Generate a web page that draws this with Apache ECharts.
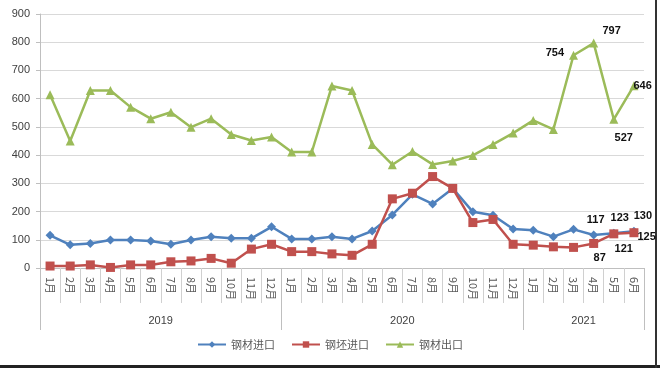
<!DOCTYPE html>
<html><head><meta charset="utf-8">
<script src="https://cdn.jsdelivr.net/npm/echarts@6/dist/echarts.min.js"></script>
<style>html,body{margin:0;padding:0;background:#fff}#c{width:660px;height:368px}</style>
</head><body><div id="c"></div>
<script>
var months = ['1月','2月','3月','4月','5月','6月','7月','8月','9月','10月','11月','12月',
              '1月','2月','3月','4月','5月','6月','7月','8月','9月','10月','11月','12月',
              '1月','2月','3月','4月','5月','6月'];
var years = ['2019','2020','2021'];
var yearLabelIndex = [5, 17, 26];
var yearStartIndex = [0, 12, 24];
var steelImport = [116, 82, 87, 99, 99, 96, 84, 99, 111, 105, 105, 146,
                   103, 103, 111, 103, 131, 188, 261, 227, 282, 199, 187, 138,
                   134, 111, 137, 117, 123, 130];
var billetImport = [7, 7, 11, 2, 11, 11, 22, 25, 34, 17, 67, 84,
                    58, 58, 50, 45, 84, 245, 265, 324, 282, 161, 172, 84,
                    81, 75, 73, 87, 121, 125];
var steelExport = [614, 450, 629, 629, 570, 529, 552, 499, 529, 473, 452, 464,
                   411, 411, 645, 629, 438, 366, 413, 367, 379, 399, 438, 478,
                   523, 491, 754, 797, 527, 646];
var seriesNames = ['钢材进口', '钢坯进口', '钢材出口'];
// labelled points: index -> label position
var exportLabels = {26: 'left', 27: 'top', 28: 'bottom', 29: 'right'};
var importLabels = {27: 'top', 28: 'top', 29: 'top'};
var billetLabels = {27: 'bottom', 28: 'bottom', 29: 'right'};

function mk(values, labels, offsets) {
  return values.map(function (v, i) {
    if (labels[i]) {
      return {value: v, label: {show: true, position: labels[i], offset: offsets[i] || [0, 0]}};
    }
    return v;
  });
}

var chart = echarts.init(document.getElementById('c'));
var lblStyle = {color: '#111', fontSize: 11, fontWeight: 'bold', fontFamily: 'Liberation Sans'};
chart.setOption({
  animation: false,
  textStyle: {fontFamily: 'Liberation Sans, Noto Sans CJK SC'},
  grid: {left: 40, right: 16, top: 14, bottom: 100},
  legend: {
    bottom: 13, left: 'center', itemWidth: 28, itemHeight: 8, itemGap: 16,
    textStyle: {fontSize: 11, color: '#595959', fontFamily: 'Noto Sans CJK SC'},
    data: seriesNames
  },
  xAxis: [{
    type: 'category', data: months, boundaryGap: true,
    axisLine: {lineStyle: {color: '#BFBFBF'}},
    axisTick: {show: true, interval: 0, length: 35, lineStyle: {color: '#D0D0D0'}},
    axisLabel: {interval: 0, rotate: -90, fontSize: 11, color: '#595959', margin: 9,
                fontFamily: 'Noto Sans CJK SC'}
  }, {
    type: 'category', data: months, boundaryGap: true, position: 'bottom', offset: 0,
    axisLine: {show: false},
    axisTick: {show: true, length: 62, lineStyle: {color: '#BFBFBF'},
               interval: function (i) { return yearStartIndex.indexOf(i) >= 0; }},
    axisLabel: {
      interval: function (i) { return yearLabelIndex.indexOf(i) >= 0; },
      formatter: function (v, i) { return years[yearLabelIndex.indexOf(i)]; },
      margin: 47, fontSize: 11, color: '#404040', padding: [0, 0, 0, 20]
    }
  }],
  yAxis: {
    type: 'value', min: 0, max: 900, interval: 100,
    axisLine: {show: true, lineStyle: {color: '#BFBFBF'}},
    axisTick: {show: true, length: 4, lineStyle: {color: '#BFBFBF'}},
    splitLine: {lineStyle: {color: '#D9D9D9'}},
    axisLabel: {fontSize: 11, color: '#404040', margin: 10}
  },
  series: [{
    name: seriesNames[0], type: 'line', data: mk(steelImport, importLabels, {27: [2, 0], 28: [6, 0], 29: [9, 0]}),
    symbol: 'diamond', symbolSize: 9, color: '#4F81BD', lineStyle: {width: 2.5},
    label: lblStyle
  }, {
    name: seriesNames[1], type: 'line', data: mk(billetImport, billetLabels, {27: [6, 0], 28: [10, 0], 29: [-6, 4]}),
    symbol: 'rect', symbolSize: 9, color: '#C0504D', lineStyle: {width: 2.5},
    label: lblStyle
  }, {
    name: seriesNames[2], type: 'line', data: mk(steelExport, exportLabels, {26: [0, -2], 27: [18, 3], 28: [10, 4], 29: [-10, 0]}),
    symbol: 'triangle', symbolSize: 9, color: '#9BBB59', lineStyle: {width: 2.5},
    label: lblStyle
  }],
  graphic: [
    {type: 'rect', left: 0, bottom: 0, shape: {width: 660, height: 3}, style: {fill: '#222'}, silent: true},
    {type: 'rect', left: 655, top: 0, shape: {width: 2, height: 368}, style: {fill: '#333'}, silent: true}
  ]
});
</script></body></html>
